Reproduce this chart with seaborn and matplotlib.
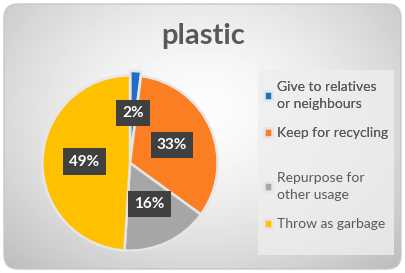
import numpy as np
import matplotlib.pyplot as plt
import seaborn as sns
from matplotlib.patches import FancyBboxPatch, Rectangle

# data
categories = ['Give to relatives\nor neighbours', 'Keep for recycling',
              'Repurpose for\nother usage', 'Throw as garbage']
shares = [2, 33, 16, 49]
colors = ['#1f6fc6', '#fb7e23', '#a6a6a6', '#ffc000']
title = 'plastic'

sns.set_theme(style='white')
plt.rcParams['font.family'] = ['Lato', 'DejaVu Sans']

fig = plt.figure(figsize=(4.05, 2.73), dpi=100)
fig.patch.set_facecolor('white')

# rounded background with radial gradient
bg = fig.add_axes([0, 0, 1, 1])
bg.set_xlim(0, 405)
bg.set_ylim(273, 0)
bg.axis('off')
yy, xx = np.mgrid[0:273, 0:405]
r = np.sqrt(((xx - 200) / 260.0) ** 2 + ((yy - 110) / 200.0) ** 2)
grad = np.clip(0.99 - 0.22 * r ** 1.6, 0.72, 1.0)
img = bg.imshow(grad, cmap='gray', vmin=0, vmax=1, extent=(0, 405, 273, 0), zorder=0)
frame = FancyBboxPatch((4, 4), 397, 265, boxstyle='round,pad=0,rounding_size=14',
                       fc='none', ec='#c8c8c8', lw=1.0, zorder=2)
bg.add_patch(frame)
img.set_clip_path(frame)

# legend area
bg.add_patch(Rectangle((258, 70), 136, 185, fc='#eeeeee', ec='none', alpha=0.8, zorder=1))

bg.text(203, 36, title, ha='center', va='center', fontsize=21, fontweight='bold',
        color='#595959')

# pie
ax = fig.add_axes([(130 - 92) / 405, 1 - (163 + 92) / 273, 184 / 405, 184 / 273])
wedges, _, autotexts = ax.pie(
    shares, colors=colors, startangle=90, counterclock=False,
    explode=[0.05, 0, 0, 0], autopct='%1.0f%%', pctdistance=0.52,
    wedgeprops=dict(edgecolor='#e6e6e6', linewidth=1.8),
    textprops=dict(color='white', fontsize=11, fontweight='bold'))
for t in autotexts:
    t.set_bbox(dict(boxstyle='square,pad=0.4', fc='#404040', ec='none'))
ax.set_xlim(-1.05, 1.05)
ax.set_ylim(-1.05, 1.05)
ax.set_aspect('equal')

legend_kw = dict(loc='upper left', frameon=False, fontsize=10, handlelength=0.6,
                 handleheight=0.6, handletextpad=0.35, labelspacing=1.25,
                 borderpad=0, borderaxespad=0, labelcolor='#595959')
leg1 = fig.legend(wedges[:2], categories[:2], bbox_to_anchor=(264 / 405, 1 - 81 / 273), **legend_kw)
leg2 = fig.legend(wedges[2:], categories[2:], bbox_to_anchor=(264 / 405, 1 - 172 / 273), **legend_kw)
fig.add_artist(leg1)
for leg in (leg1, leg2):
    for t in leg.get_texts():
        t.set_linespacing(1.5)

fig.savefig('out.png', dpi=100)
